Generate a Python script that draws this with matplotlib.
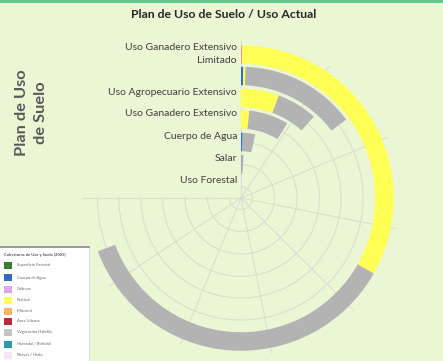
import numpy as np
import matplotlib
matplotlib.use("Agg")
import matplotlib.pyplot as plt
import matplotlib.transforms as mtransforms
from matplotlib.patches import Rectangle

plt.rcParams["font.family"] = ["Lato", "DejaVu Sans"]

# ---- data ----
# value axis: 0..80 spans 270 degrees (8 grid sectors)
AXIS_MAX = 80
categories = [
    "Uso Ganadero Extensivo\nLimitado",
    "",
    "Uso Agropecuario Extensivo",
    "Uso Ganadero Extensivo",
    "Cuerpo de Agua",
    "Salar",
    "Uso Forestal",
]
agua = [0.0, 0.3, 0.0, 0.0, 0.45, 0.25, 0.0]
matorral = [0.15, 0.0, 0.0, 0.0, 0.0, 0.0, 0.0]
pastizal = [35.3, 0.3, 6.0, 1.6, 0.0, 0.0, 0.0]
vegetacion = [38.5, 15.2, 6.4, 7.8, 3.3, 0.8, 0.0]

legend_title = "Coberturas de Uso y Suelo (2003)"
legend_labels = [
    "Superficie Forestal",
    "Cuerpo de Agua",
    "Cultivos",
    "Pastizal",
    "Matorral",
    "Área Urbana",
    "Vegetación Halófila",
    "Humedal / Bofedal",
    "Nieves / Hielo",
]
legend_colors = [
    "#3c7a3a", "#3567c0", "#e3a6ec", "#ffff55", "#f8b45e",
    "#c0263a", "#c4c4c4", "#2f98ab", "#f6e6f2",
]

BG = "#ebf6d4"
GRID = "#dadfd2"
TEXT = "#404040"

fig = plt.figure(figsize=(4.43, 3.61), dpi=100)
fig.patch.set_facecolor(BG)

# top green strip
fig.add_artist(Rectangle((0, 1 - 2.5 / 361), 1, 2.5 / 361, transform=fig.transFigure,
                         facecolor="#60cc93", edgecolor="none"))

fig.text(223.5 / 443, 1 - 15 / 361, "Plan de Uso de Suelo / Uso Actual",
         ha="center", va="center", fontsize=8.8, fontweight="bold", color="#262626")
fig.text(31.5 / 443, 1 - 113 / 361, "Plan de Uso\nde Suelo", rotation=90,
         ha="center", va="center", fontsize=11.8, fontweight="bold", color="#595959",
         linespacing=1.4)

# ---- radial bar chart ----
cx, cy, R = 241, 198, 160
ax = fig.add_axes([(cx - R) / 443, (361 - cy - R) / 361, 2 * R / 443, 2 * R / 361],
                  projection="polar")
ax.set_theta_zero_location("N")
ax.set_theta_direction(-1)
ax.set_ylim(0, R)
ax.set_axis_off()
ax.patch.set_visible(False)

ring_c = np.array([143.5, 122, 100, 78.5, 56, 33.5, 11.5])
ring_h = 18.5
scale = np.deg2rad(270) / AXIS_MAX

# grid: arcs at ring centres and spokes every 10 units
arc = np.linspace(0, np.deg2rad(270), 300)
for r in ring_c:
    ax.plot(arc, np.full_like(arc, r), color=GRID, lw=0.8, zorder=1)
for v in range(0, AXIS_MAX + 1, 10):
    ax.plot([v * scale, v * scale], [0, 158], color=GRID, lw=0.8, zorder=1)

left = np.zeros(len(categories))
for vals, col in [(agua, "#2f6fd0"), (matorral, "#d8a878"),
                  (pastizal, "#ffff55"), (vegetacion, "#b3b3b3")]:
    vals = np.array(vals)
    ax.bar(left * scale, ring_h, width=vals * scale, bottom=ring_c - ring_h / 2,
           align="edge", color=col, edgecolor="none", zorder=2)
    left += vals

off = mtransforms.offset_copy(ax.transData, fig=fig, x=-4, y=0, units="dots")
for i, lab in enumerate(categories):
    if not lab:
        continue
    r = ring_c[i] + (0.5 if "\n" in lab else 5.8)
    ax.text(0, r, lab, transform=off, ha="right", va="center", fontsize=7.5,
            color=TEXT, linespacing=1.7, zorder=3)

# ---- legend box ----
lax = fig.add_axes([0, 0, 89 / 443, (361 - 247) / 361])
lax.set_xlim(0, 89)
lax.set_ylim(361, 247)
lax.set_facecolor("white")
lax.set_xticks([])
lax.set_yticks([])
for s in ["left", "bottom"]:
    lax.spines[s].set_visible(False)
lax.spines["top"].set_color("#8a8a8a")
lax.spines["top"].set_linewidth(1.2)
lax.spines["right"].set_color("#e0e0e0")
lax.text(4, 255, legend_title, fontsize=3, color="#555555", va="center", fontweight="bold")
item_y = [265, 277.5, 289, 300, 311, 321.5, 332.5, 344, 355]
for y, lab, col in zip(item_y, legend_labels, legend_colors):
    lax.add_patch(Rectangle((3.5, y - 3.5), 8, 7, facecolor=col, edgecolor="none"))
    lax.text(17, y, lab, fontsize=3, color="#666666", va="center")

fig.savefig("out.png", dpi=100, facecolor=BG)
